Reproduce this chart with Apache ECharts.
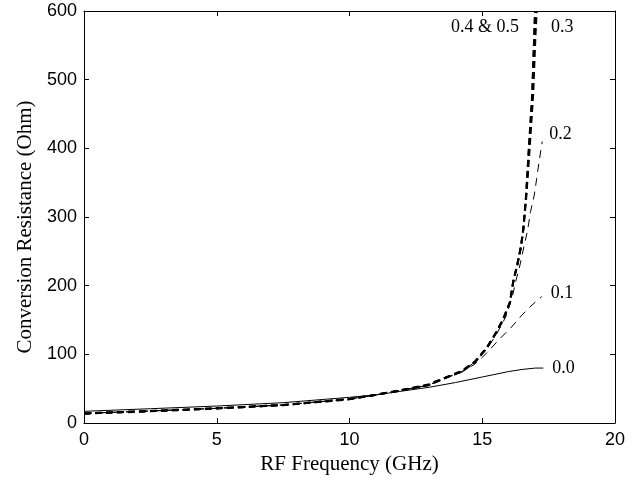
<!DOCTYPE html>
<html>
<head>
<meta charset="utf-8">
<script src="https://cdn.jsdelivr.net/npm/echarts@6/dist/echarts.min.js"></script>
<style>html,body{margin:0;padding:0;background:#fff}#c{width:639px;height:483px}</style>
</head>
<body>
<div id="c"></div>
<script>
// ---- data ----
var xTicks = [0, 5, 10, 15, 20];
var yTicks = [0, 100, 200, 300, 400, 500, 600];

var f00 = [0, 2.5, 5, 7.5, 10, 11, 12, 13, 14, 15, 16, 16.5, 17, 17.3];
var r00 = [17, 20.8, 24.7, 29.6, 37.4, 41, 46.6, 52, 59, 67, 75, 78, 80, 80];

var f01 = [0, 2.5, 5, 7.5, 10, 11, 12, 12.96, 13.6, 14.23, 14.73, 15.17, 15.67, 16.11, 16.49, 16.8, 17.05, 17.24];
var r01 = [14, 17.5, 21.4, 26.2, 35, 41, 48, 55, 65, 74, 86, 102, 123, 140, 157, 169, 178, 184];

var f02 = [0, 2.5, 5, 7.5, 10, 11, 12, 12.96, 13.6, 14.23, 14.73, 15.17, 15.52, 15.89, 16.12, 16.26, 16.42, 16.57, 16.71, 16.82, 16.96, 17.05, 17.15, 17.26];
var r02 = [14, 17.5, 21.4, 26.2, 35, 41, 48, 55, 65.5, 75, 89, 108, 128, 155, 182, 206, 230, 257, 281, 308, 332, 356, 383, 410];

var f03 = [0, 2.5, 5, 7.5, 10, 11, 12, 12.96, 13.6, 14.23, 14.73, 15.17, 15.52, 15.78, 16.04, 16.17, 16.32, 16.46, 16.55, 16.66, 16.8, 16.92, 17.0, 17.05];
var r03 = [14, 17.5, 21.4, 26.2, 35, 41, 48, 55, 65.5, 75, 89, 109, 131, 150, 175, 206, 230, 257, 283, 330, 408, 480, 560, 600];

var f045 = [0, 2.5, 5, 7.5, 10, 11, 12, 12.96, 13.6, 14.23, 14.73, 15.17, 15.52, 15.78, 16.04, 16.17, 16.32, 16.46, 16.55, 16.65, 16.77, 16.88, 16.96, 16.99];
var r04 = [14, 17.5, 21.4, 26.2, 35, 41, 48, 55, 65.5, 75, 89, 109, 131, 150, 175, 206, 230, 257, 283, 330, 408, 475, 565, 600];
var r05 = [13.5, 17, 21, 26, 34.5, 41, 48.5, 56, 66, 76, 90, 110, 132, 151, 176, 207, 231, 258, 284, 332, 410, 478, 568, 600];

var labels = { s00: '0.0', s01: '0.1', s02: '0.2', s03: '0.3', s45: '0.4 & 0.5' };

function zip(xs, ys) { return xs.map(function (x, i) { return [x, ys[i]]; }); }

var serif = '"Liberation Serif", "Times New Roman", serif';
var sans = '"Liberation Sans", Arial, sans-serif';

var chart = echarts.init(document.getElementById('c'));

function lineSeries(name, data, width, dash, endLab) {
  var s = {
    name: name, type: 'line', data: data, showSymbol: false, symbol: 'none',
    smooth: false, animation: false, z: 3,
    lineStyle: { color: '#000', width: width, type: dash }
  };
  if (endLab) {
    s.endLabel = {
      show: true, formatter: endLab.text, color: '#000', fontFamily: serif, fontSize: 18,
      distance: endLab.dist, offset: endLab.offset
    };
  }
  return s;
}

var axisLine = { show: true, onZero: false, lineStyle: { color: '#000', width: 1 } };
var tick = { show: true, inside: true, length: 5, lineStyle: { color: '#000' } };

chart.setOption({
  backgroundColor: '#fff',
  animation: false,
  grid: { left: 84, right: 24, top: 11, bottom: 60 },
  xAxis: [{
    type: 'value', min: 0, max: 20, interval: 5, position: 'bottom',
    name: 'RF Frequency (GHz)', nameLocation: 'middle', nameGap: 31,
    nameTextStyle: { fontFamily: serif, fontSize: 21, color: '#000' },
    axisLine: axisLine, axisTick: tick, splitLine: { show: false },
    axisLabel: { color: '#000', fontFamily: sans, fontSize: 18, margin: 8 }
  }, {
    type: 'value', min: 0, max: 20, interval: 5, position: 'top',
    axisLine: axisLine, axisTick: tick, splitLine: { show: false }, axisLabel: { show: false }
  }],
  yAxis: [{
    type: 'value', min: 0, max: 600, interval: 100, position: 'left',
    name: 'Conversion Resistance (Ohm)', nameLocation: 'middle', nameGap: 40,
    nameTextStyle: { fontFamily: serif, fontSize: 21, color: '#000', padding: [0, 20, 0, 0] },
    axisLine: axisLine, axisTick: tick, splitLine: { show: false },
    axisLabel: { color: '#000', fontFamily: sans, fontSize: 18, margin: 7 }
  }, {
    type: 'value', min: 0, max: 600, interval: 100, position: 'right',
    axisLine: axisLine, axisTick: tick, splitLine: { show: false }, axisLabel: { show: false }
  }],
  series: [
    lineSeries('0.0', zip(f00, r00), 1, 'solid', { text: labels.s00, dist: 9, offset: [0, 0] }),
    lineSeries('0.1', zip(f01, r01), 1, [8, 6], { text: labels.s01, dist: 9, offset: [0, -3] }),
    lineSeries('0.2', zip(f02, r02), 1, [8, 6], { text: labels.s02, dist: 7, offset: [0, -7] }),
    lineSeries('0.3', zip(f03, r03), 2, [7, 4], null),
    lineSeries('0.4', zip(f045, r04), 2, [7, 4], null),
    lineSeries('0.5', zip(f045, r05), 2, [6, 5], null)
  ],
  graphic: [
    { type: 'text', left: 451, top: 18, style: { text: labels.s45, font: '18px ' + serif, fill: '#000' } },
    { type: 'text', left: 551, top: 18, style: { text: labels.s03, font: '18px ' + serif, fill: '#000' } }
  ]
});
</script>
</body>
</html>
